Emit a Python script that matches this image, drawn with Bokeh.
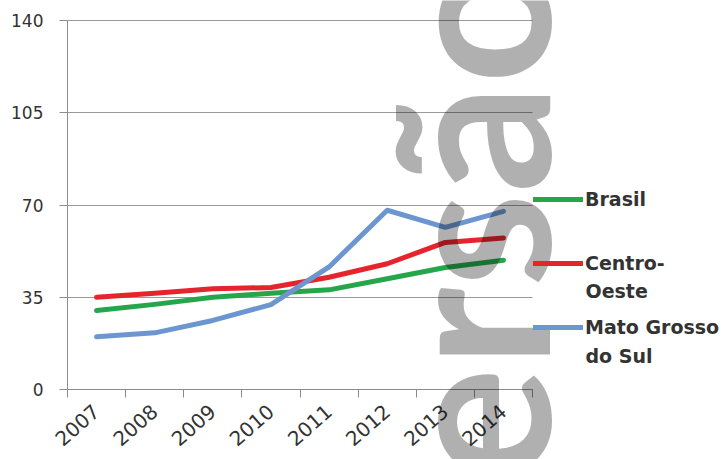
import math
from bokeh.plotting import figure
from bokeh.models import (ColumnDataSource, FixedTicker, Legend, LegendItem,
                          Label, Range1d)
from bokeh.embed import file_html
from bokeh.resources import INLINE

# ---------------- data ----------------
years = ["2007", "2008", "2009", "2010", "2011", "2012", "2013", "2014"]
brasil = [30.0, 32.3, 35.0, 36.5, 37.8, 42.0, 46.3, 49.0]
centro_oeste = [35.0, 36.5, 38.2, 38.7, 42.6, 47.7, 55.8, 57.5]
mato_grosso_do_sul = [20.0, 21.5, 26.2, 32.2, 46.5, 68.0, 61.5, 67.6]
y_ticks = [0, 35, 70, 105, 140]
legend_first_lines = ["Brasil", "Centro-", "Mato Grosso"]
legend_second_lines = ["", "Oeste", "do Sul"]
watermark = "Versão"

colors = ["#25a64b", "#e5252b", "#6b96cf"]

# ---------------- layout (pixels) ----------------
W, H = 727, 459
AX_L, AX_R, AX_T, AX_B = 67, 532, 20, 389   # where the chart's axes sit on the canvas

n = len(years)
ymax = y_ticks[-1]
xpx = (AX_R - AX_L) / n
ypx = (AX_B - AX_T) / ymax

# category centres / boundaries on a numeric axis
xs = [i + 0.5 for i in range(n)]
bounds = list(range(n + 1))

src = ColumnDataSource(dict(x=xs, brasil=brasil, co=centro_oeste, ms=mato_grosso_do_sul))

p = figure(width=W, height=H,
           x_range=Range1d(-AX_L / xpx, n + (W - AX_R) / xpx),
           y_range=Range1d(-(H - AX_B) / ypx, ymax + AX_T / ypx),
           output_backend="svg", toolbar_location=None,
           min_border_left=0, min_border_right=0, min_border_top=0, min_border_bottom=0)
p.outline_line_color = None
p.background_fill_color = "white"
p.border_fill_color = "white"

axis_col = "#8c8c8c"
label_col = "#333333"

# y axis
yax = p.yaxis[0]
yax.fixed_location = 0
yax.bounds = (0, ymax)
yax.ticker = FixedTicker(ticks=y_ticks, minor_ticks=[])
yax.axis_line_color = axis_col
yax.major_tick_line_color = axis_col
yax.major_tick_out = 8
yax.major_tick_in = 0
yax.major_label_standoff = 16
yax.major_label_text_font = "DejaVu Sans"
yax.major_label_text_font_size = "17px"
yax.major_label_text_color = label_col

# x axis
xax = p.xaxis[0]
xax.fixed_location = 0
xax.bounds = (0, n)
xax.ticker = FixedTicker(ticks=xs, minor_ticks=bounds)
xax.major_label_overrides = {x: y for x, y in zip(xs, years)}
xax.axis_line_color = axis_col
xax.major_tick_line_color = None
xax.minor_tick_line_color = axis_col
xax.minor_tick_out = 8
xax.minor_tick_in = 0
xax.major_label_orientation = 0.72
xax.major_label_standoff = 11
xax.major_label_text_font = "DejaVu Sans"
xax.major_label_text_font_size = "20px"
xax.major_label_text_color = label_col

p.xgrid.grid_line_color = None
p.ygrid.ticker = FixedTicker(ticks=y_ticks)
p.ygrid.grid_line_color = "#9a9a9a"
p.ygrid.grid_line_width = 1
try:
    p.ygrid.cross_bounds = (0, n)
except Exception:
    p.ygrid.grid_line_color = None
    p.segment(x0=[0] * len(y_ticks), x1=[n] * len(y_ticks), y0=y_ticks, y1=y_ticks,
              line_color="#9a9a9a", line_width=1)

renderers = []
for col, c in zip(["brasil", "co", "ms"], colors):
    r = p.line("x", col, source=src, line_color=c, line_width=5, line_cap="round", line_join="round")
    renderers.append(r)

legend = Legend(items=[LegendItem(label=l, renderers=[r]) for l, r in zip(legend_first_lines, renderers)],
                location=(533, 121), orientation="vertical",
                glyph_width=50, glyph_height=20, label_height=20, spacing=42,
                label_standoff=2, padding=0, margin=0,
                border_line_color=None, background_fill_alpha=0,
                label_text_font="DejaVu Sans", label_text_font_style="bold",
                label_text_font_size="19px", label_text_color=label_col)
p.add_layout(legend, "center")

for txt, yy in zip(legend_second_lines, [0, 169, 104]):
    if txt:
        p.add_layout(Label(x=585, y=yy, x_units="screen", y_units="screen", text=txt,
                           text_font="DejaVu Sans", text_font_style="bold", text_font_size="19px",
                           text_color=label_col, text_baseline="middle", text_align="left"))

# scanned-page watermark
p.add_layout(Label(x=466, y=499, x_units="screen", y_units="screen", text=watermark,
                   angle=math.pi / 2, text_align="right", text_baseline="alphabetic",
                   text_font="Lato", text_font_style="bold", text_font_size="215px",
                   text_color="black", text_alpha=0.31))

open("out.html", "w").write(file_html(p, INLINE))
